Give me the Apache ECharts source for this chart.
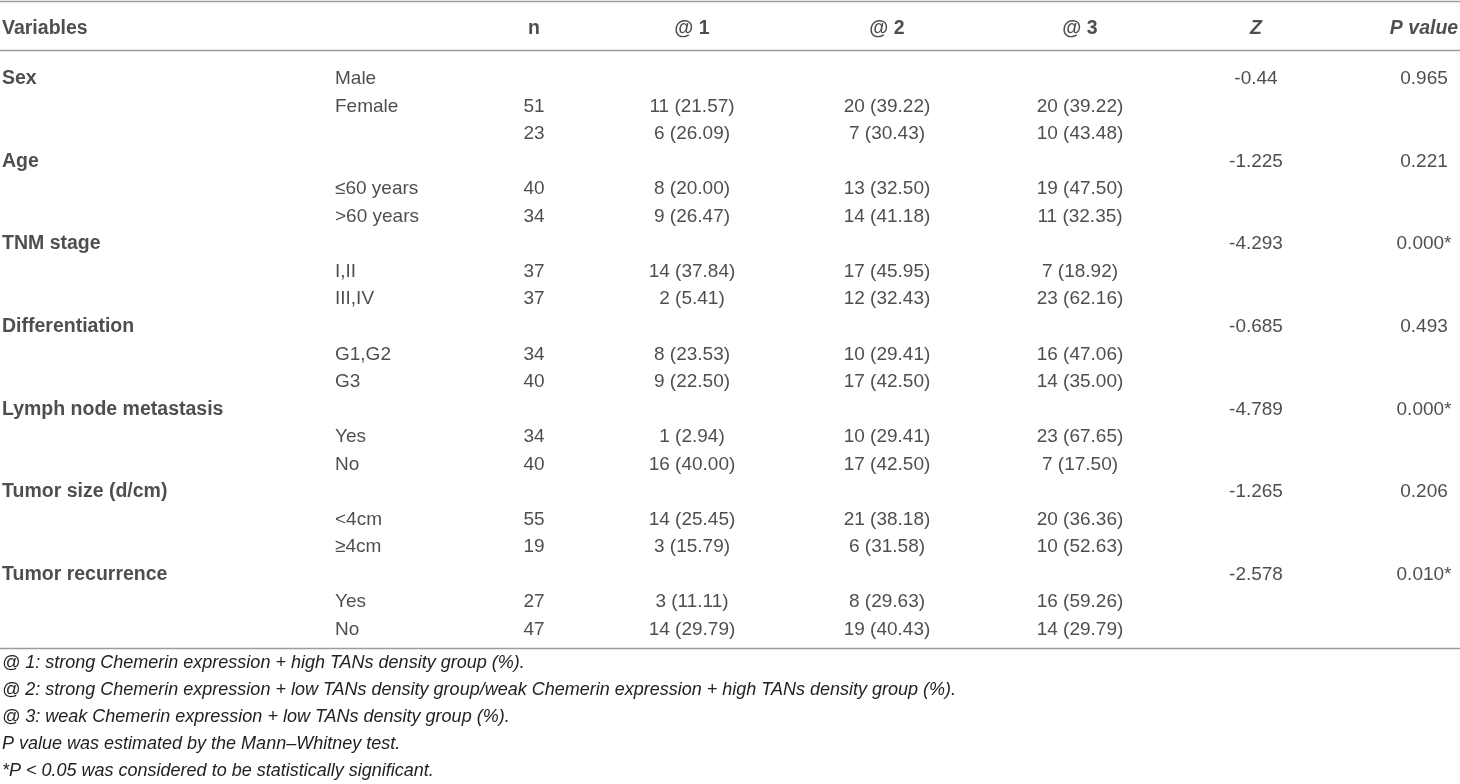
<!DOCTYPE html>
<html>
<head>
<meta charset="utf-8">
<script src="https://cdn.jsdelivr.net/npm/echarts@6/dist/echarts.min.js"></script>
<style>
  html, body { margin: 0; padding: 0; background: #fff; }
  #main { width: 1460px; height: 784px; }
</style>
</head>
<body>
<div id="main"></div>
<script>
// table content
var headers = ['Variables', '', 'n', '@ 1', '@ 2', '@ 3', 'Z', 'P value'];
var rowVariable = ['Sex', '', '', 'Age', '', '', 'TNM stage', '', '', 'Differentiation', '', '',
  'Lymph node metastasis', '', '', 'Tumor size (d/cm)', '', '', 'Tumor recurrence', '', ''];
var rowLevel = ['Male', 'Female', '', '', '≤60 years', '>60 years', '', 'I,II', 'III,IV', '', 'G1,G2', 'G3',
  '', 'Yes', 'No', '', '<4cm', '≥4cm', '', 'Yes', 'No'];
var rowN = [null, 51, 23, null, 40, 34, null, 37, 37, null, 34, 40, null, 34, 40, null, 55, 19, null, 27, 47];
var g1Count = [null, 11, 6, null, 8, 9, null, 14, 2, null, 8, 9, null, 1, 16, null, 14, 3, null, 3, 14];
var g1Pct = [null, 21.57, 26.09, null, 20.00, 26.47, null, 37.84, 5.41, null, 23.53, 22.50, null, 2.94, 40.00, null, 25.45, 15.79, null, 11.11, 29.79];
var g2Count = [null, 20, 7, null, 13, 14, null, 17, 12, null, 10, 17, null, 10, 17, null, 21, 6, null, 8, 19];
var g2Pct = [null, 39.22, 30.43, null, 32.50, 41.18, null, 45.95, 32.43, null, 29.41, 42.50, null, 29.41, 42.50, null, 38.18, 31.58, null, 29.63, 40.43];
var g3Count = [null, 20, 10, null, 19, 11, null, 7, 23, null, 16, 14, null, 23, 7, null, 20, 10, null, 16, 14];
var g3Pct = [null, 39.22, 43.48, null, 47.50, 32.35, null, 18.92, 62.16, null, 47.06, 35.00, null, 67.65, 17.50, null, 36.36, 52.63, null, 59.26, 29.79];
var zValue = [-0.44, null, null, -1.225, null, null, -4.293, null, null, -0.685, null, null, -4.789, null, null, -1.265, null, null, -2.578, null, null];
var pValue = ['0.965', '', '', '0.221', '', '', '0.000*', '', '', '0.493', '', '', '0.000*', '', '', '0.206', '', '', '0.010*', '', ''];
var notes = [
  '@ 1: strong Chemerin expression + high TANs density group (%).',
  '@ 2: strong Chemerin expression + low TANs density group/weak Chemerin expression + high TANs density group (%).',
  '@ 3: weak Chemerin expression + low TANs density group (%).',
  'P value was estimated by the Mann\u2013Whitney test.',
  '*P < 0.05 was considered to be statistically significant.'
];

var FONT = '"Liberation Sans", Arial, Helvetica, sans-serif';
var TXT = '#222';
var RULE = '#9c9c9c';
// column anchor x and alignment
var colX = [2, 335, 534, 692, 887, 1080, 1256, 1424];
var colAlign = ['left', 'left', 'center', 'center', 'center', 'center', 'center', 'center'];

function cell(n, p) {
  return n == null ? '' : n + ' (' + p.toFixed(2) + ')';
}

var rowIds = rowVariable.map(function (v, i) { return String(i); });
var columns = [
  rowVariable,
  rowLevel,
  rowN.map(function (v) { return v == null ? '' : String(v); }),
  g1Count.map(function (v, i) { return cell(v, g1Pct[i]); }),
  g2Count.map(function (v, i) { return cell(v, g2Pct[i]); }),
  g3Count.map(function (v, i) { return cell(v, g3Pct[i]); }),
  zValue.map(function (v) { return v == null ? '' : String(v); }),
  pValue
];

var series = [];
columns.forEach(function (col, c) {
  series.push({
    type: 'scatter',
    xAxisIndex: 1, yAxisIndex: 1,
    symbolSize: 0,
    silent: true,
    data: col.map(function (t, r) { return [colX[c], r, t]; }).filter(function (d) { return d[2] !== ''; }),
    label: {
      show: true, position: [0, 0], align: colAlign[c], verticalAlign: 'middle',
      formatter: function (p) { return p.value[2]; },
      fontFamily: FONT, fontSize: c === 0 ? 19.5 : 19, color: TXT,
      fontWeight: c === 0 ? 'bold' : 'normal'
    }
  });
});
// header row
series.push({
  type: 'scatter',
  xAxisIndex: 0, yAxisIndex: 0,
  symbolSize: 0,
  silent: true,
  data: headers.map(function (h, c) {
    return {
      value: [colX[c], 0, h],
      label: { align: colAlign[c], fontStyle: c >= 6 ? 'italic' : 'normal' }
    };
  }).filter(function (d) { return d.value[2] !== ''; }),
  label: {
    show: true, position: [0, 0], verticalAlign: 'middle',
    fontFamily: FONT, fontSize: 19.5, color: TXT, fontWeight: 'bold',
    formatter: function (p) { return p.value[2]; }
  }
});

var myChart = echarts.init(document.getElementById('main'));
myChart.setOption({
  backgroundColor: '#fff',
  animation: false,
  grid: [
    { left: 0, right: 0, top: 15, height: 28 },
    { left: 0, right: 0, top: 65, height: 21 * 27.55 }
  ],
  xAxis: [
    { gridIndex: 0, type: 'value', min: 0, max: 1460, show: false },
    { gridIndex: 1, type: 'value', min: 0, max: 1460, show: false }
  ],
  yAxis: [
    { gridIndex: 0, type: 'category', data: ['h'], show: false },
    { gridIndex: 1, type: 'category', data: rowIds, inverse: true, show: false }
  ],
  graphic: [
    { type: 'line', shape: { x1: 0, y1: 1.5, x2: 1460, y2: 1.5 }, style: { stroke: RULE, lineWidth: 1.5 } },
    { type: 'line', shape: { x1: 0, y1: 50.5, x2: 1460, y2: 50.5 }, style: { stroke: RULE, lineWidth: 1.5 } },
    { type: 'line', shape: { x1: 0, y1: 648.5, x2: 1460, y2: 648.5 }, style: { stroke: RULE, lineWidth: 1.5 } }
  ].concat(notes.map(function (t, i) {
    return {
      type: 'text', left: 2, top: 654 + i * 27,
      style: { text: t, fontFamily: FONT, fontSize: 18, fontStyle: 'italic', fill: TXT }
    };
  })),
  series: series
});
</script>
</body>
</html>
